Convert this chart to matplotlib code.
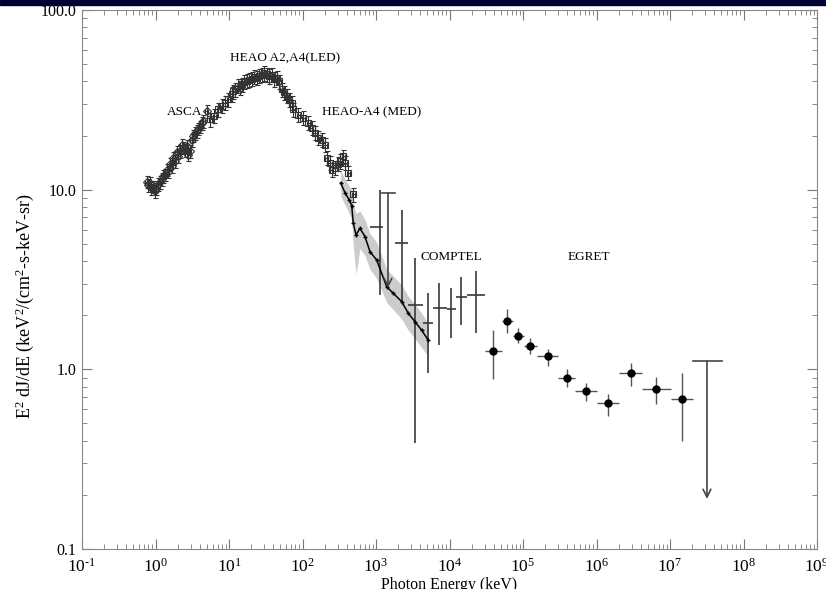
import numpy as np
import matplotlib
matplotlib.use("Agg")
import matplotlib.pyplot as plt
from matplotlib.patches import Rectangle
from matplotlib.ticker import LogLocator, FixedFormatter, FixedLocator, NullFormatter

# ASCA points (keV, E^2 dJ/dE)
asca_e = [0.76, 0.80, 0.84, 0.88, 0.93, 0.98, 1.03, 1.09, 1.15, 1.21,
          1.28, 1.35, 1.42, 1.49, 1.57, 1.66, 1.75, 1.84, 1.94, 2.04,
          2.15, 2.27, 2.39, 2.52, 2.65, 2.80, 2.94, 3.10, 3.27, 3.45,
          3.63, 3.83, 4.03, 4.25, 4.47, 4.98]
asca_f = [11.1, 10.6, 10.9, 10.2, 10.4, 9.8, 10.1, 10.7, 11.0, 11.4,
          11.9, 12.1, 12.9, 12.6, 13.9, 13.5, 15.0, 14.4, 16.2, 15.3,
          16.4, 17.8, 17.1, 16.6, 17.5, 15.6, 16.4, 18.9, 19.9, 20.6,
          21.2, 21.8, 22.4, 23.5, 24.1, 27.4]

# HEAO A2 / A4 LED
led_e = [5.6, 6.3, 7.16, 7.96, 8.83, 9.77, 10.9, 11.5, 12.1, 13.4,
         14.2, 14.9, 16.0, 17.4, 18.9, 20.4, 22.0, 23.8, 25.8, 27.9,
         30.1, 32.6, 35.3, 38.1, 41.2, 44.6, 48.3, 52.1, 56.4, 61.0,
         65.9, 71.3]
led_f = [24.6, 25.8, 28.0, 29.2, 30.5, 31.8, 34.0, 35.3, 36.2, 37.8,
         36.9, 38.6, 39.8, 40.3, 41.0, 41.5, 42.6, 42.1, 43.1, 43.4,
         44.5, 43.9, 42.8, 43.4, 41.2, 42.1, 40.0, 36.2, 34.8, 33.2,
         31.6, 30.5]

# HEAO A4 MED
med_e = [75.0, 87.7, 102.6, 120, 133, 148, 164, 182, 202, 213,
         237, 249, 277, 300, 324, 359, 378, 420, 491]
med_f = [28.0, 26.2, 25.2, 23.6, 22.1, 20.7, 19.5, 19.0, 17.8, 15.0,
         14.1, 12.9, 13.2, 13.9, 14.4, 15.3, 14.1, 12.4, 9.4]

# model curve with its band
model_e = [330, 380, 430, 467, 491, 535, 605, 708, 828, 1021, 1400, 1718,
           2239, 2754, 3396, 4188, 5152]
model_f = [10.9, 9.6, 8.8, 8.15, 6.5, 5.6, 6.1, 5.48, 4.52, 4.06, 2.88, 2.65,
           2.38, 2.05, 1.84, 1.65, 1.45]
band_lo = [9.2, 8.2, 7.4, 6.7, 4.8, 3.4, 4.7, 4.3, 3.6, 3.2, 2.35, 2.15,
           1.9, 1.65, 1.48, 1.32, 1.18]
band_hi = [12.8, 11.4, 10.5, 9.9, 8.2, 7.4, 7.6, 6.8, 5.7, 5.1, 3.6, 3.3,
           2.95, 2.55, 2.3, 2.05, 1.8]

# COMPTEL
comptel_e = [1132, 2259, 3396, 5093, 7194, 10471, 14322, 22961]
comptel_elo = [828, 1816, 2723, 4355, 5970, 9247, 12246, 17298]
comptel_ehi = [1245, 2723, 4355, 5970, 9247, 12246, 17298, 30409]
comptel_f = [6.2, 5.06, 2.28, 1.81, 2.19, 2.16, 2.53, 2.59]
comptel_flo = [2.59, 2.37, 0.39, 0.96, 1.36, 1.49, 1.76, 1.59]
comptel_fhi = [10.0, 7.73, 4.17, 2.66, 3.02, 2.84, 3.26, 3.52]
comptel_ul = [1455, 1208, 1816, 9.6, 2.84]   # E, Elo, Ehi, limit, arrow tip

# EGRET
egret_e = [39084, 60534, 85507, 124451, 218776, 397192, 719449,
           1432188, 2944400, 6456542, 14554876]
egret_elo = [30409, 51761, 73114, 103276, 154882, 299226, 509331,
             1016249, 2022967, 4159106, 10327614]
egret_ehi = [51761, 73114, 103276, 154882, 299226, 509331, 1016249,
             2022967, 4159106, 10327614, 20558000]
egret_f = [1.26, 1.85, 1.53, 1.34, 1.18, 0.90, 0.76, 0.65, 0.95, 0.78, 0.68]
egret_flo = [0.88, 1.59, 1.40, 1.21, 1.05, 0.80, 0.67, 0.55, 0.81, 0.64, 0.40]
egret_fhi = [1.65, 2.16, 1.69, 1.49, 1.29, 1.00, 0.84, 0.73, 1.08, 0.91, 0.95]
egret_ul = [31841000, 20558000, 50933000, 1.11, 0.19]

xtick_labels = [r"$10^{\text{%d}}$" % k for k in range(-1, 10)]
ytick_labels = ["0.1", "1.0", "10.0", "100.0"]

plt.rcParams["font.family"] = ["Liberation Serif", "DejaVu Serif"]
plt.rcParams["mathtext.fontset"] = "custom"
plt.rcParams["mathtext.rm"] = "Liberation Serif"
plt.rcParams["mathtext.it"] = "Liberation Serif:italic"

fig = plt.figure(figsize=(8.26, 5.89), dpi=100)
ax = fig.add_axes([82 / 826, 1 - 549 / 589, 735 / 826, 539 / 589])
fig.add_artist(Rectangle((0, 1 - 5 / 589), 1, 5 / 589, transform=fig.transFigure,
                         color="#000033", zorder=10))


def asym(v, lo, hi):
    v = np.array(v)
    return [v - np.array(lo), np.array(hi) - v]


# soft x-ray data, open symbols with error bars
soft = dict(mfc="none", mec="#333333", ecolor="#333333", elinewidth=0.8,
            capsize=1.8, mew=0.8, lw=0, ms=4)
ax.errorbar(asca_e, asca_f, yerr=np.array(asca_f) * 0.08, xerr=np.array(asca_e) * 0.04,
            fmt="D", **soft)
ax.errorbar(led_e, led_f, yerr=np.array(led_f) * 0.09, xerr=np.array(led_e) * 0.05,
            fmt="s", **soft)
ax.errorbar(med_e, med_f, yerr=np.array(med_f) * 0.09, xerr=np.array(med_e) * 0.05,
            fmt="s", **soft)

ax.fill_between(model_e, band_lo, band_hi, color="#cccccc", lw=0, zorder=1)
ax.plot(model_e, model_f, color="black", lw=1.1, marker="+", ms=3.5, zorder=3)

ax.errorbar(comptel_e, comptel_f, yerr=asym(comptel_f, comptel_flo, comptel_fhi),
            xerr=asym(comptel_e, comptel_elo, comptel_ehi),
            fmt="none", ecolor="#3a3a3a", elinewidth=1.2)
ax.errorbar(egret_e, egret_f, yerr=asym(egret_f, egret_flo, egret_fhi),
            xerr=asym(egret_e, egret_elo, egret_ehi),
            fmt="o", ms=5, color="black", ecolor="#555555", elinewidth=1.0)

for ul in (comptel_ul, egret_ul):
    e, elo, ehi, top, tip = ul
    ax.plot([elo, ehi], [top, top], color="#444444", lw=1.2)
    ax.annotate("", xy=(e, tip), xytext=(e, top),
                arrowprops=dict(arrowstyle="->", color="#444444", lw=1.2,
                                mutation_scale=14, shrinkA=0, shrinkB=0))

ax.text(4.3, 26.9, "ASCA", ha="right", va="center", fontsize=9.5)
ax.text(10.3, 54, "HEAO A2,A4(LED)", ha="left", va="center", fontsize=9.5)
ax.text(184, 26.9, "HEAO-A4 (MED)", ha="left", va="center", fontsize=9.5)
ax.text(4090, 4.23, "COMPTEL", ha="left", va="center", fontsize=9.5)
ax.text(4.1e5, 4.23, "EGRET", ha="left", va="center", fontsize=9.5)

ax.set_xscale("log")
ax.set_yscale("log")
ax.set_xlim(0.1, 1e9)
ax.set_ylim(0.1, 100)

ax.xaxis.set_major_locator(FixedLocator([10.0 ** k for k in range(-1, 10)]))
ax.xaxis.set_major_formatter(FixedFormatter(xtick_labels))
ax.xaxis.set_minor_locator(LogLocator(base=10, subs=np.arange(2, 10), numticks=100))
ax.xaxis.set_minor_formatter(NullFormatter())
ax.yaxis.set_major_locator(FixedLocator([0.1, 1, 10, 100]))
ax.yaxis.set_major_formatter(FixedFormatter(ytick_labels))
ax.yaxis.set_minor_locator(LogLocator(base=10, subs=np.arange(2, 10), numticks=100))
ax.yaxis.set_minor_formatter(NullFormatter())

ax.tick_params(which="both", direction="in", top=True, right=True, color="#777777")
ax.tick_params(which="major", length=7, width=0.8)
ax.tick_params(which="minor", length=3.5, width=0.6)
ax.tick_params(axis="x", which="major", labelsize=12.5, pad=6)
ax.tick_params(axis="y", which="major", labelsize=11.5, pad=4)
for s in ax.spines.values():
    s.set_color("#888888")
    s.set_linewidth(0.8)

ax.set_xlabel("Photon Energy (keV)", fontsize=11.5, labelpad=1)
ax.set_ylabel("E$^2$ dJ/dE (keV$^2$/(cm$^2$-s-keV-sr)", fontsize=13)
ax.yaxis.set_label_coords(-0.062, 0.45)

fig.savefig("out.png", dpi=100)
